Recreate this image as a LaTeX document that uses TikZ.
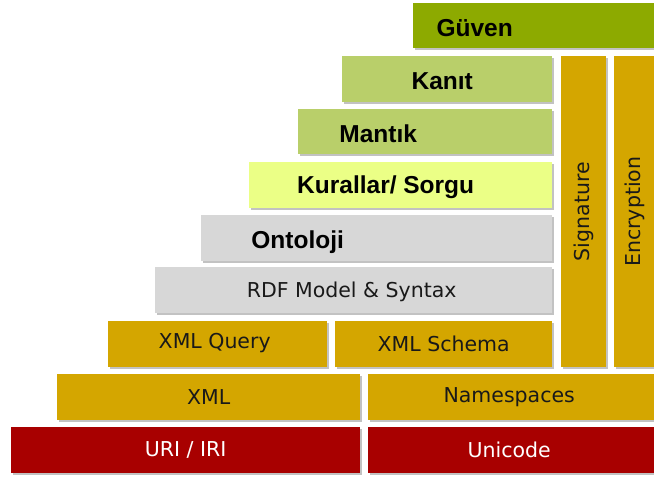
\documentclass[tikz,border=0pt]{standalone}
\usepackage{fontspec}
\setmainfont{DejaVu Sans}
\newfontfamily\boldsans{Liberation Sans}
\usetikzlibrary{shadows}
\definecolor{guvenc}{HTML}{8DAA00}
\definecolor{kanitc}{HTML}{B9CF6A}
\definecolor{kuralc}{HTML}{EBFF86}
\definecolor{grayc}{HTML}{D7D7D7}
\definecolor{goldc}{HTML}{D4A600}
\definecolor{redc}{HTML}{A80000}
\tikzset{
  layer/.style={rectangle, inner sep=0pt, anchor=north west,
    drop shadow={shadow xshift=1.5pt, shadow yshift=-1.8pt, fill=black!40, opacity=0.6}},
  toptext/.style={font=\boldsans\bfseries\fontsize{24.5}{25}\selectfont, text=black, yshift=-2pt},
  lowtext/.style={font=\fontsize{20.5}{21}\selectfont, text=black!90},
  redtext/.style={font=\fontsize{20.5}{21}\selectfont, text=white},
}
\begin{document}
\begin{tikzpicture}[x=1pt,y=-1pt]
\useasboundingbox (0,0) rectangle (654,477);
% top layers
\node[layer, fill=guvenc, minimum width=243pt, minimum height=45pt,
  label={[toptext, xshift=-60pt]center:Güven}] (guven) at (413,3) {};
\node[layer, fill=kanitc, minimum width=210pt, minimum height=46pt,
  label={[toptext, xshift=-5pt]center:Kanıt}] (kanit) at (342,56) {};
\node[layer, fill=kanitc, minimum width=254pt, minimum height=45pt,
  label={[toptext, xshift=-47pt]center:Mantık}] (mantik) at (298,109) {};
\node[layer, fill=kuralc, minimum width=303pt, minimum height=46pt,
  label={[toptext, xshift=-15pt]center:Kurallar/ Sorgu}] (kurallar) at (249,162) {};
\node[layer, fill=grayc, minimum width=351pt, minimum height=46pt,
  label={[toptext, xshift=-79pt, yshift=-1.5pt]center:Ontoloji}] (ontoloji) at (201,215) {};
\node[layer, fill=grayc, minimum width=397pt, minimum height=46pt,
  label={[lowtext, xshift=-2pt, yshift=-1.5pt]center:RDF Model \& Syntax}] (rdf) at (155,267) {};
% xml layers
\node[layer, fill=goldc, minimum width=219pt, minimum height=46pt,
  label={[lowtext, xshift=-3pt, yshift=1pt]center:XML Query}] (xmlq) at (108,321) {};
\node[layer, fill=goldc, minimum width=217pt, minimum height=46pt,
  label={[lowtext]center:XML Schema}] (xmls) at (335,321) {};
\node[layer, fill=goldc, minimum width=303pt, minimum height=46pt,
  label={[lowtext]center:XML}] (xml) at (57,374) {};
\node[layer, fill=goldc, minimum width=288pt, minimum height=46pt,
  label={[lowtext, xshift=-3pt]center:Namespaces}] (ns) at (368,374) {};
% base
\node[layer, fill=redc, minimum width=349pt, minimum height=46pt,
  label={[redtext]center:URI / IRI}] (uri) at (11,427) {};
\node[layer, fill=redc, minimum width=288pt, minimum height=46pt,
  label={[redtext, xshift=-3pt]center:Unicode}] (unicode) at (368,427) {};
% vertical
\node[layer, fill=goldc, minimum width=45pt, minimum height=311pt,
  label={[lowtext, rotate=90]center:Signature}] (sig) at (561,56) {};
\node[layer, fill=goldc, minimum width=42pt, minimum height=311pt,
  label={[lowtext, rotate=90]center:Encryption}] (enc) at (614,56) {};
\end{tikzpicture}
\end{document}
